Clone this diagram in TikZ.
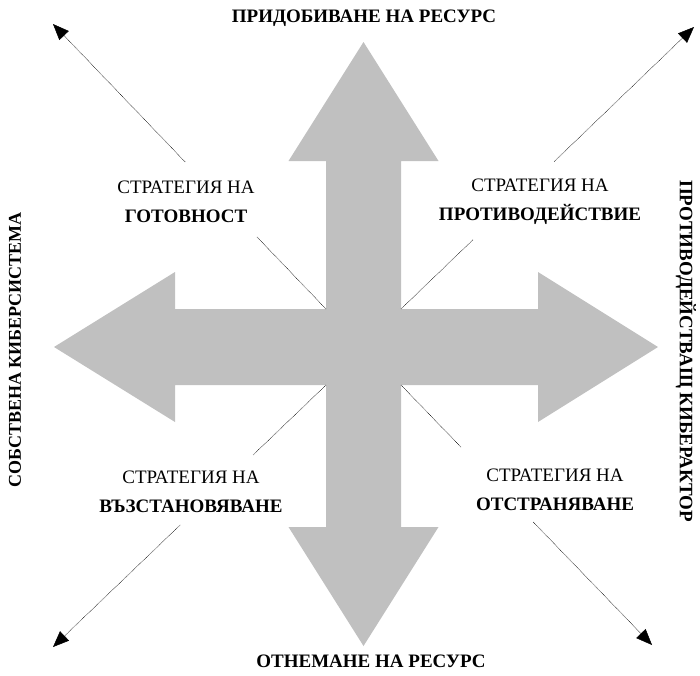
\documentclass[tikz,border=0pt]{standalone}
\usepackage{fontspec}
\setmainfont{Liberation Serif}
\usetikzlibrary{arrows.meta,calc}
\definecolor{crossgray}{HTML}{C0C0C0}
\begin{document}
\begin{tikzpicture}[x=1pt,y=-1pt,
  guide/.style={line width=0.45pt, dash pattern=on 0.8pt off 0.7pt, black},
  tipped/.style={guide,-{Triangle[length=16pt,width=13pt,fill=black]}},
  strat/.style={align=center, font=\fontsize{19}{29}\selectfont, inner sep=0pt},
  axis/.style={font=\fontsize{19}{22}\selectfont\bfseries, inner sep=0pt}]
\useasboundingbox (0,0) rectangle (700,675);

% four-way arrow cross
\fill[crossgray] (363.5,42) -- (438.5,161) -- (401,161) -- (401,309) -- (538,309)
  -- (538,272) -- (658,347) -- (538,422) -- (538,385) -- (401,385) -- (401,527)
  -- (438.5,527) -- (363.5,646) -- (288.5,527) -- (326,527) -- (326,385)
  -- (175,385) -- (175,422) -- (54,347) -- (175,272) -- (175,309) -- (326,309)
  -- (326,161) -- (288.5,161) -- cycle;

% inner corners of the cross and the far ends of the diagonals
\coordinate (cTL) at (326,309);
\coordinate (cTR) at (401,309);
\coordinate (cBL) at (326,385);
\coordinate (cBR) at (401,385);
\coordinate (tipTL) at (53,24);
\coordinate (tipTR) at (694,27);
\coordinate (tipBL) at (53,647);
\coordinate (tipBR) at (652,645);

% points where each diagonal is interrupted by its label
\coordinate (inTL)  at ($(cTL)!0.253!(tipTL)$);
\coordinate (outTL) at ($(cTL)!0.516!(tipTL)$);
\coordinate (inTR)  at ($(cTR)!0.246!(tipTR)$);
\coordinate (outTR) at ($(cTR)!0.523!(tipTR)$);
\coordinate (inBL)  at ($(cBL)!0.267!(tipBL)$);
\coordinate (outBL) at ($(cBL)!0.534!(tipBL)$);
\coordinate (inBR)  at ($(cBR)!0.240!(tipBR)$);
\coordinate (outBR) at ($(cBR)!0.527!(tipBR)$);

\draw[guide] (cTL) -- (inTL);
\draw[tipped] (outTL) -- (tipTL);
\draw[guide] (cTR) -- (inTR);
\draw[tipped] (outTR) -- (tipTR);
\draw[guide] (cBL) -- (inBL);
\draw[tipped] (outBL) -- (tipBL);
\draw[guide] (cBR) -- (inBR);
\draw[tipped] (outBR) -- (tipBR);

% strategy labels
\node[strat] (readiness) at (186,201.5) {СТРАТЕГИЯ НА\\\textbf{ГОТОВНОСТ}};
\node[strat] (counter) at (540,201.5) {СТРАТЕГИЯ НА\\\textbf{ПРОТИВОДЕЙСТВИЕ}};
\node[strat] (recovery) at (191,491.5) {СТРАТЕГИЯ НА\\\textbf{ВЪЗСТАНОВЯВАНЕ}};
\node[strat] (removal) at (555,490) {СТРАТЕГИЯ НА\\\textbf{ОТСТРАНЯВАНЕ}};

% axis captions
\node[axis] (gain) at (364,18.5) {ПРИДОБИВАНЕ НА РЕСУРС};
\node[axis] (loss) at (371,661) {ОТНЕМАНЕ НА РЕСУРС};
\node[axis, font=\fontsize{18}{22}\selectfont\bfseries, rotate=90] (own) at (15,350) {СОБСТВЕНА КИБЕРСИСТЕМА};
\node[axis, rotate=-90] (rival) at (686,351) {ПРОТИВОДЕЙСТВАЩ КИБЕРАКТОР};
\end{tikzpicture}
\end{document}
